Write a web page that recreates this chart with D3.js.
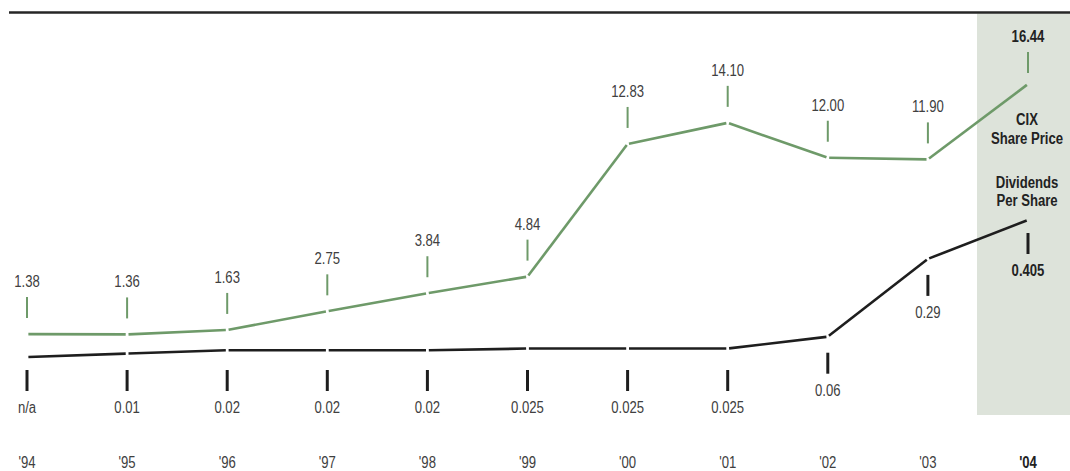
<!DOCTYPE html>
<html>
<head>
<meta charset="utf-8">
<script src="https://cdn.jsdelivr.net/npm/d3@7"></script>
<style>
  html, body { margin: 0; padding: 0; background: #fff; }
  svg { display: block; }
  text { font-family: "Liberation Sans", Arial, sans-serif; }
</style>
</head>
<body>
<svg id="chart" width="1070" height="471"></svg>
<script>
// Fiscal years shown along the bottom
const years = ["'94", "'95", "'96", "'97", "'98", "'99", "'00", "'01", "'02", "'03", "'04"];
// CIX share price at year end (dollars)
const sharePrice = [1.38, 1.36, 1.63, 2.75, 3.84, 4.84, 12.83, 14.10, 12.00, 11.90, 16.44];
const sharePriceLabels = ["1.38", "1.36", "1.63", "2.75", "3.84", "4.84", "12.83", "14.10", "12.00", "11.90", "16.44"];
// Dividends per share (dollars); none reported in '94
const dividends = [0, 0.01, 0.02, 0.02, 0.02, 0.025, 0.025, 0.025, 0.06, 0.29, 0.405];
const dividendLabels = ["n/a", "0.01", "0.02", "0.02", "0.02", "0.025", "0.025", "0.025", "0.06", "0.29", "0.405"];

const W = 1070, H = 471;
const green = "#6e9a69";
const ink = "#1e1e1e";
const textGray = "#404040";
const shade = "#dde3da";
const squeeze = 0.82; // horizontal compression for a condensed look

const svg = d3.select("#chart");

const x = d3.scalePoint().domain(years).range([27, 1028]);
const yPrice = d3.scaleLinear().domain([0, 16.44]).range([357, 84]);
const yDiv = d3.scaleLinear().domain([0, 0.405]).range([357, 220]);

const lastYear = years[years.length - 1];

// Condensed, centred label
function label(parent, tx, ty, str, bold) {
  return parent.append("text")
    .attr("transform", `translate(${tx},${ty}) scale(${squeeze},1)`)
    .attr("text-anchor", "middle")
    .attr("font-size", 16)
    .attr("font-weight", bold ? "bold" : "normal")
    .attr("fill", bold ? "#222" : textGray)
    .text(str);
}

// Highlight band for the latest year
svg.append("rect")
  .attr("x", 977).attr("y", 13.5)
  .attr("width", W - 977).attr("height", 415 - 13.5)
  .attr("fill", shade);

// Top rule
svg.append("line")
  .attr("x1", 9).attr("x2", W)
  .attr("y1", 12.5).attr("y2", 12.5)
  .attr("stroke", "#262626").attr("stroke-width", 2.6);

// Draws a polyline as separate segments with a small break at every vertex
function brokenLine(values, yScale, color) {
  const pts = values.map((v, i) => [x(years[i]), yScale(v)]);
  const gap = 1.4;
  const segs = d3.pairs(pts).map(([a, b]) => {
    const dx = b[0] - a[0], dy = b[1] - a[1];
    const len = Math.hypot(dx, dy);
    const ux = dx / len, uy = dy / len;
    return [[a[0] + ux * gap, a[1] + uy * gap], [b[0] - ux * gap, b[1] - uy * gap]];
  });
  svg.append("g").selectAll("line").data(segs).join("line")
    .attr("x1", d => d[0][0]).attr("y1", d => d[0][1])
    .attr("x2", d => d[1][0]).attr("y2", d => d[1][1])
    .attr("stroke", color).attr("stroke-width", 2.6)
    .attr("stroke-linecap", "butt");
}

brokenLine(sharePrice, yPrice, green);
brokenLine(dividends, yDiv, ink);

// Share price callouts: tick above each point and the value above it
const priceG = svg.append("g");
sharePrice.forEach((v, i) => {
  const yr = years[i];
  const last = yr === lastYear;
  const py = yPrice(v);
  const t0 = last ? py - 32 : py - 37;
  const t1 = last ? py - 11 : py - 16;
  priceG.append("line")
    .attr("x1", x(yr)).attr("x2", x(yr))
    .attr("y1", t0).attr("y2", t1)
    .attr("stroke", green).attr("stroke-width", 2);
  label(priceG, x(yr), t0 - 10, sharePriceLabels[i], last);
});

// Dividend callouts: tick below each point and the value below it;
// the small early values share one row beneath the baseline
const divG = svg.append("g");
dividends.forEach((v, i) => {
  const yr = years[i];
  const last = yr === lastYear;
  const py = yDiv(v);
  let t0;
  if (v < 0.05) t0 = yDiv(0) + 13;
  else t0 = last ? py + 13 : py + 16;
  const t1 = t0 + 21;
  divG.append("line")
    .attr("x1", x(yr)).attr("x2", x(yr))
    .attr("y1", t0).attr("y2", t1)
    .attr("stroke", ink).attr("stroke-width", 3);
  label(divG, x(yr), t1 + 22, dividendLabels[i], last);
});

// Year labels along the bottom
const yearG = svg.append("g");
years.forEach(yr => label(yearG, x(yr), 468, yr, yr === lastYear));

// Series names inside the highlight band
const seriesNames = [
  { lines: ["CIX", "Share Price"], y: 125, lh: 19 },
  { lines: ["Dividends", "Per Share"], y: 188, lh: 17.5 }
];
const nameG = svg.append("g");
seriesNames.forEach(s => {
  s.lines.forEach((ln, j) => label(nameG, 1027, s.y + j * s.lh, ln, true));
});
</script>
</body>
</html>
